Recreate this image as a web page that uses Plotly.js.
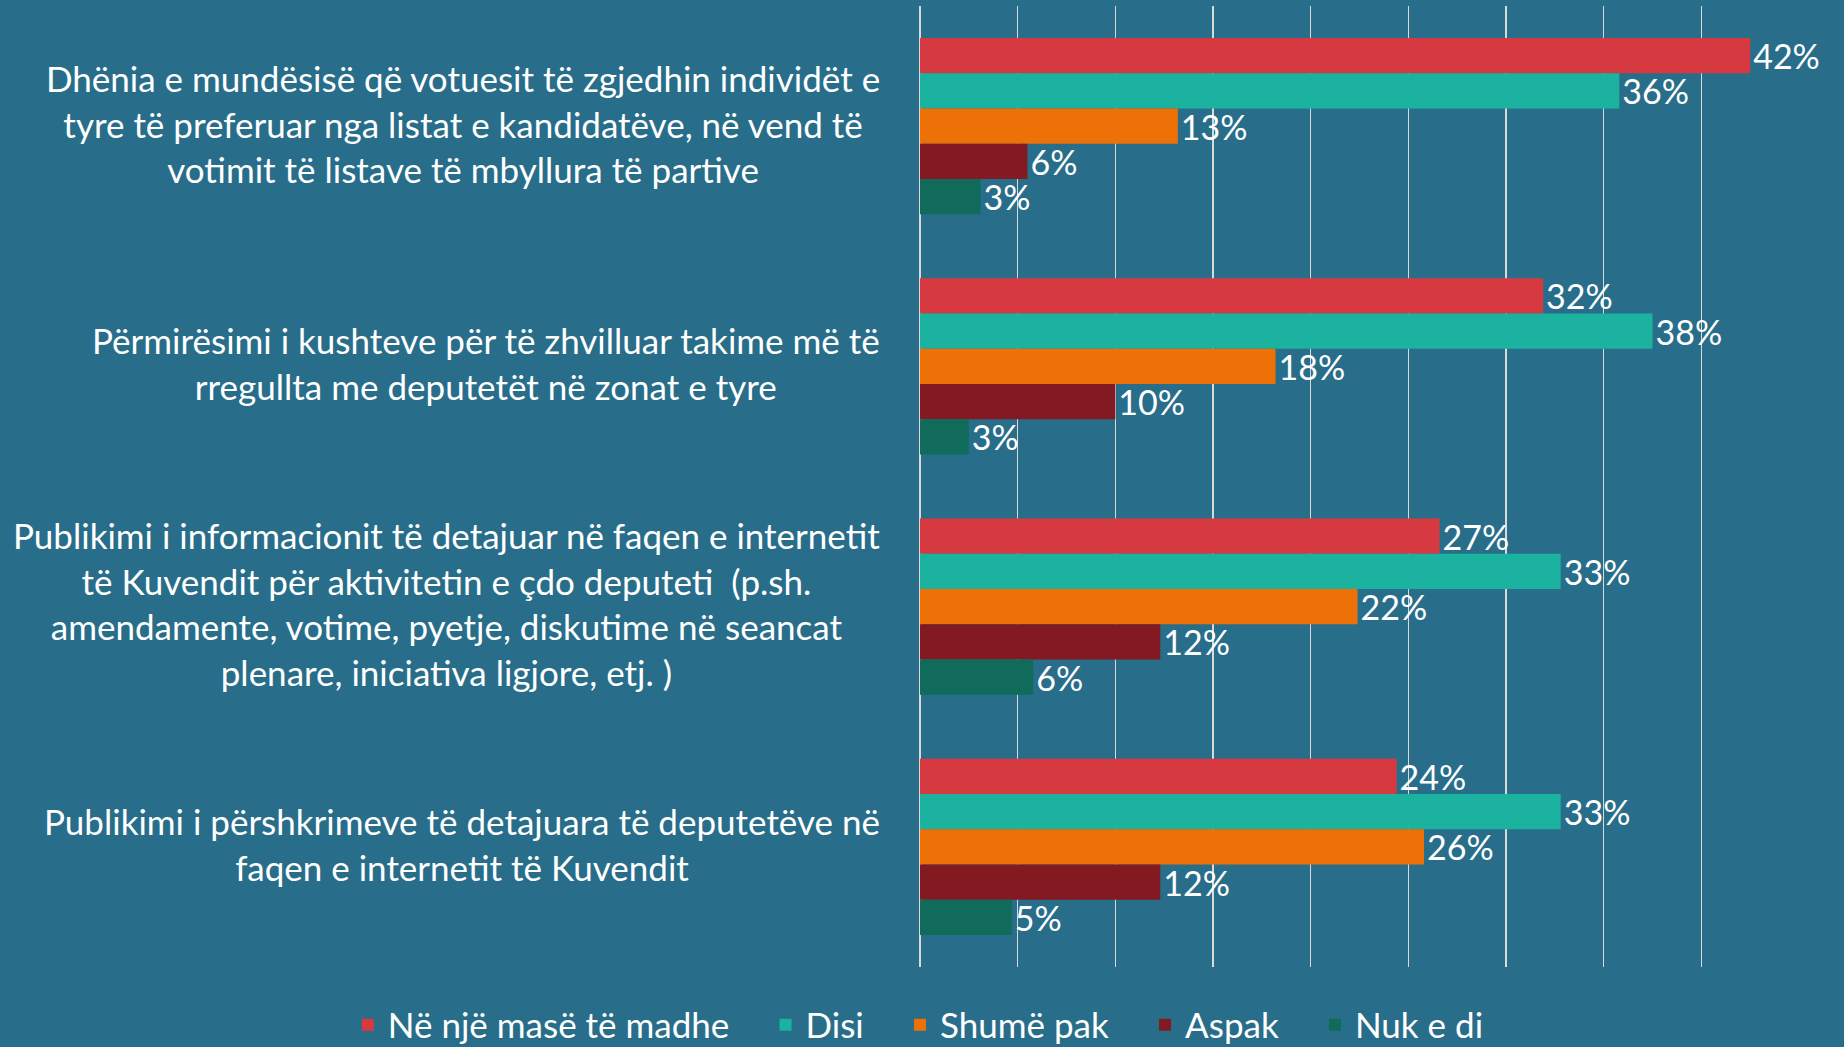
<!DOCTYPE html>
<html>
<head>
<meta charset="utf-8">
<script src="https://cdn.plot.ly/plotly-3.0.1.min.js"></script>
<style>html,body{margin:0;padding:0;background:#286E8A;}#chart{width:1844px;height:1047px;}</style>
</head>
<body>
<div id="chart"></div>
<script>
const categories = [
  "Dhënia e mundësisë që votuesit të zgjedhin individët e<br>tyre të preferuar nga listat e kandidatëve, në vend të<br>votimit të listave të mbyllura të partive",
  "Përmirësimi i kushteve për të zhvilluar takime më të<br>rregullta me deputetët në zonat e tyre",
  "Publikimi i informacionit të detajuar në faqen e internetit<br>të Kuvendit për aktivitetin e çdo deputeti  (p.sh.<br>amendamente, votime, pyetje, diskutime në seancat<br>plenare, iniciativa ligjore, etj. )",
  "Publikimi i përshkrimeve të detajuara të deputetëve në<br>faqen e internetit të Kuvendit"
];
const seriesNames = ["Në një masë të madhe", "Disi", "Shumë pak", "Aspak", "Nuk e di"];
const seriesColors = ["#D63A40", "#1BB3A0", "#EE7108", "#841A21", "#106B5B"];
// bar lengths (%)
const vMadhe = [42.5, 31.9, 26.6, 24.4];
const vDisi  = [35.8, 37.5, 32.8, 32.8];
const vPak   = [13.2, 18.2, 22.4, 25.8];
const vAspak = [5.5, 10.0, 12.3, 12.3];
const vNuk   = [3.1, 2.5, 5.8, 4.7];
// printed labels
const lMadhe = ["42%", "32%", "27%", "24%"];
const lDisi  = ["36%", "38%", "33%", "33%"];
const lPak   = ["13%", "18%", "22%", "26%"];
const lAspak = ["6%", "10%", "12%", "12%"];
const lNuk   = ["3%", "3%", "6%", "5%"];

const values = [vMadhe, vDisi, vPak, vAspak, vNuk];
const labels = [lMadhe, lDisi, lPak, lAspak, lNuk];
const FONT = "Lato, 'Open Sans', sans-serif";
const PAD = "\u00a0\u00a0\u00a0\u2009";

const traces = seriesNames.map((name, i) => ({
  type: 'bar',
  orientation: 'h',
  name: i < seriesNames.length - 1 ? name + PAD : name,
  y: categories,
  x: values[i],
  text: labels[i],
  textposition: 'outside',
  constraintext: 'none',
  cliponaxis: false,
  textfont: {family: FONT, size: 34, color: '#FFFFFF'},
  marker: {color: seriesColors[i], line: {width: 0}},
  hoverinfo: 'x+name'
}));

const annotations = categories.map(c => ({
  xref: 'x domain', yref: 'y',
  x: 0, y: c,
  xanchor: 'right', yanchor: 'middle',
  xshift: -38, yshift: 3,
  align: 'center',
  showarrow: false,
  text: c,
  font: {family: FONT, size: 35, color: '#FFFFFF'}
}));

const W = 1844;
const layout = {
  width: 1844, height: 1047,
  paper_bgcolor: '#286E8A',
  plot_bgcolor: '#286E8A',
  margin: {l: 0, r: 0, t: 6, b: 80},
  barmode: 'group',
  bargap: 0.267,
  bargroupgap: 0,
  font: {family: FONT, color: '#FFFFFF'},
  xaxis: {
    domain: [920 / W, 1799 / W],
    range: [0, 45],
    dtick: 5,
    showgrid: true,
    gridcolor: '#D9D9D9',
    gridwidth: 1.6,
    zeroline: true,
    zerolinecolor: '#D9D9D9',
    zerolinewidth: 1.6,
    showticklabels: false,
    ticks: '',
    showline: false,
    fixedrange: true
  },
  yaxis: {
    autorange: 'reversed',
    showticklabels: false,
    ticks: '',
    showgrid: false,
    showline: false,
    zeroline: false,
    fixedrange: true
  },
  showlegend: true,
  legend: {
    orientation: 'h',
    xref: 'paper', yref: 'container',
    x: 0.498, xanchor: 'center',
    y: 0.021, yanchor: 'middle',
    font: {family: FONT, size: 35, color: '#FFFFFF'},
    bgcolor: 'rgba(0,0,0,0)',
    traceorder: 'normal'
  },
  annotations: annotations
};

Plotly.newPlot('chart', traces, layout, {displayModeBar: false, staticPlot: true});
</script>
</body>
</html>
